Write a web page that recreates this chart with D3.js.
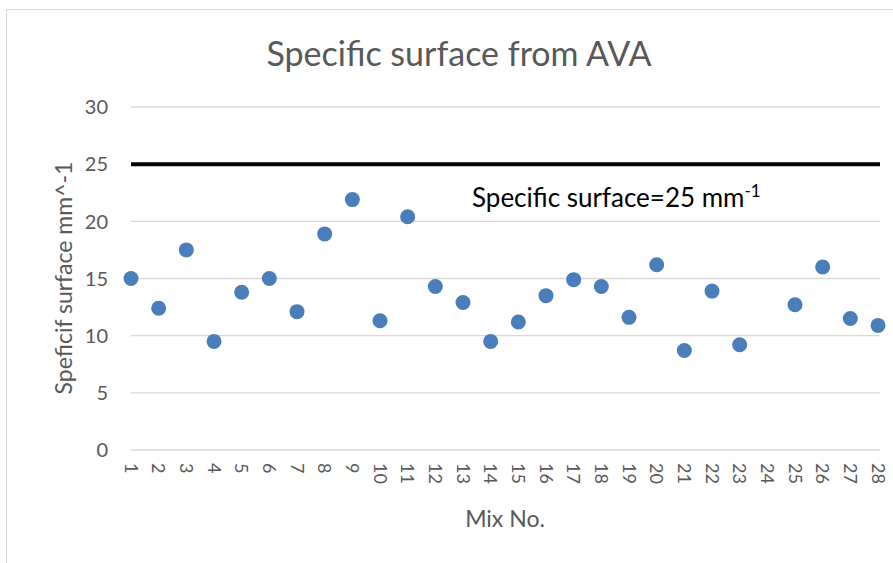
<!DOCTYPE html>
<html>
<head>
<meta charset="utf-8">
<script src="https://cdn.jsdelivr.net/npm/d3@7"></script>
<style>
  body { margin: 0; background: #fff; }
  svg { font-family: Lato, "Open Sans", sans-serif; }
</style>
</head>
<body>
<svg width="893" height="563"></svg>
<script>
const width = 893;
const height = 563;

// Mix numbers on the x axis
const mixes = d3.range(1, 29).map(String);
// Specific surface per mix (mix 24 has no value)
const surface = [15.0, 12.4, 17.5, 9.5, 13.8, 15.0, 12.1, 18.9, 21.9, 11.3,
  20.4, 14.3, 12.9, 9.5, 11.2, 13.5, 14.9, 14.3, 11.6, 16.2,
  8.7, 13.9, 9.2, null, 12.7, 16.0, 11.5, 10.9];
const yTicks = [0, 5, 10, 15, 20, 25, 30];
const limit = 25;

const svg = d3.select("svg");

// chart frame
svg.append("rect")
  .attr("x", 6.5).attr("y", 9.5)
  .attr("width", 900).attr("height", 600)
  .attr("fill", "none")
  .attr("stroke", "#d9d9d9");

const x = d3.scalePoint().domain(mixes).range([131, 878]).padding(0);
const y = d3.scaleLinear().domain([0, 30]).range([450, 107]);

// gridlines
svg.append("g")
  .selectAll("line")
  .data(yTicks)
  .join("line")
  .attr("x1", 131).attr("x2", 880)
  .attr("y1", d => y(d)).attr("y2", d => y(d))
  .attr("stroke", "#d9d9d9")
  .attr("stroke-width", 1.3);

// y tick labels
svg.append("g")
  .selectAll("text")
  .data(yTicks)
  .join("text")
  .attr("x", 108)
  .attr("y", d => y(d))
  .attr("dy", "0.36em")
  .attr("text-anchor", "end")
  .attr("fill", "#595959")
  .attr("font-size", 20)
  .text(d => d);

// x tick labels, rotated
svg.append("g")
  .selectAll("text")
  .data(mixes)
  .join("text")
  .attr("transform", d => `translate(${x(d)},463) rotate(90)`)
  .attr("dy", "0.36em")
  .attr("text-anchor", "start")
  .attr("fill", "#595959")
  .attr("font-size", 18)
  .text(d => d);

// limit line
svg.append("line")
  .attr("x1", 131).attr("x2", 880)
  .attr("y1", y(limit)).attr("y2", y(limit))
  .attr("stroke", "#000")
  .attr("stroke-width", 4);

// points
svg.append("g")
  .selectAll("circle")
  .data(mixes.map((m, i) => ({ m, v: surface[i] })).filter(d => d.v != null))
  .join("circle")
  .attr("cx", d => x(d.m))
  .attr("cy", d => y(d.v))
  .attr("r", 7.5)
  .attr("fill", "#4a7ebb");

// title
svg.append("text")
  .attr("x", 459).attr("y", 66)
  .attr("text-anchor", "middle")
  .attr("fill", "#595959")
  .attr("font-size", 34)
  .text("Specific surface from AVA");

// annotation
const note = svg.append("text")
  .attr("x", 472).attr("y", 207)
  .attr("fill", "#000")
  .attr("font-size", 26)
  .text("Specific surface=25 mm");
note.append("tspan")
  .attr("dy", -10)
  .attr("font-size", 17)
  .text("-1");

// axis titles
svg.append("text")
  .attr("x", 505).attr("y", 527)
  .attr("text-anchor", "middle")
  .attr("fill", "#595959")
  .attr("font-size", 23)
  .text("Mix No.");

svg.append("text")
  .attr("transform", "translate(72,278) rotate(-90)")
  .attr("text-anchor", "middle")
  .attr("fill", "#595959")
  .attr("font-size", 23)
  .text("Speficif surface mm^-1");
</script>
</body>
</html>
